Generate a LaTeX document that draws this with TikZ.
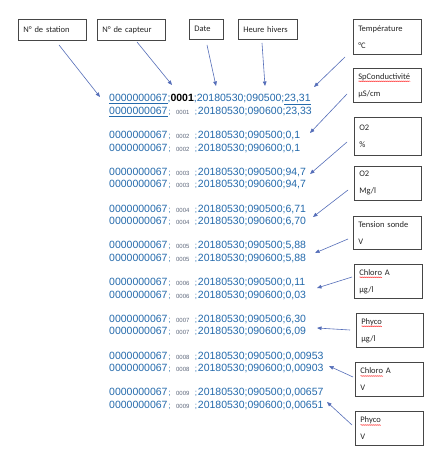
\documentclass[tikz,border=0pt]{standalone}
\usepackage{fontspec}
\setmainfont{Liberation Sans}
\newfontfamily\boxfont{Carlito}
\usetikzlibrary{arrows.meta,decorations.pathmorphing}
\definecolor{txtblue}{RGB}{36,106,172}
\definecolor{arrowc}{RGB}{85,110,185}
\definecolor{capgray}{RGB}{95,105,125}
\definecolor{boxline}{RGB}{70,70,70}
\newcommand\redwave[1]{\setbox2\hbox{#1}\rlap{\raisebox{-2.2pt}{\tikz[baseline=0pt]{\draw[red, line width=0.35pt, decorate, decoration={snake, amplitude=0.45pt, segment length=2pt}] (0pt,0pt) -- (\the\wd2,0pt);}}}\box2\relax}
\newcommand\sensor[1]{\setbox0\hbox{\bfseries;0001;}\hbox to\wd0{\hskip0.8pt{\fontsize{8}{8}\selectfont;}\hfil{\fontsize{6}{7}\selectfont\textcolor{capgray}{#1}}\hfil{\fontsize{8}{8}\selectfont;}\hskip0.8pt}}
\newcommand\rowtext[3]{0000000067\sensor{#1}20180530;#2;#3}
\tikzset{
  rowtxt/.style={anchor=base west, inner sep=0pt, text=txtblue, font=\fontsize{10.5}{12}\selectfont},
  lbox/.style={draw=boxline, line width=0.6pt, anchor=north west, align=left, inner xsep=5pt, inner ysep=0pt,
    font=\boxfont\fontsize{8.5}{17}\selectfont, text=black!85},
  arr/.style={draw=arrowc, line width=0.6pt, -{Triangle[length=4.5pt,width=3.6pt]}}
}
\begin{document}
\begin{tikzpicture}[x=1pt,y=-1pt]
\path[use as bounding box, fill=white] (0,0) rectangle (436,462);

% top boxes
\node[lbox, text width=58pt, minimum height=21pt] (station) at (18,19) {N° de station};
\node[lbox, text width=58pt, minimum height=21pt] (capteur) at (97,19) {N° de capteur};
\node[lbox, text width=24pt, minimum height=20pt] (date) at (189,19) {Date};
\node[lbox, text width=49pt, minimum height=20pt] (heure) at (238,19) {Heure hivers};

% right boxes
\node[lbox, text width=58pt, minimum height=35pt] (temp) at (353,19) {Température\\°C};
\node[lbox, text width=58pt, minimum height=34pt] (cond) at (353,68) {\redwave{SpConductivité}\\µS/cm};
\node[lbox, text width=57pt, minimum height=38pt] (o2p) at (354,117) {O2\\\%};
\node[lbox, text width=57pt, minimum height=34pt] (o2m) at (354,166) {O2\\Mg/l};
\node[lbox, text width=58pt, minimum height=33pt] (tens) at (353,216) {Tension sonde\\V};
\node[lbox, text width=58pt, minimum height=34pt] (chlu) at (354,264) {\redwave{Chloro} A\\µg/l};
\node[lbox, text width=57pt, minimum height=34pt] (phyu) at (356,313) {\redwave{Phyco}\\µg/l};
\node[lbox, text width=58pt, minimum height=34pt] (chlv) at (355,362) {\redwave{Chloro} A\\V};
\node[lbox, text width=58pt, minimum height=34pt] (phyv) at (355,411) {\redwave{Phyco}\\V};

% data rows
\node[rowtxt] (r1a) at (109,101.8) {\underline{0000000067};\textcolor{black}{\bfseries 0001};20180530;090500;\underline{23,31}};
\node[rowtxt] (r1b) at (109,114.3) {\underline{0000000067}\sensor{0001}20180530;090600;23,33};
\node[rowtxt] (r2a) at (109,138.55) {\rowtext{0002}{090500}{0,1}};
\node[rowtxt] (r2b) at (109,151.05) {\rowtext{0002}{090600}{0,1}};
\node[rowtxt] (r3a) at (109,175.3) {\rowtext{0003}{090500}{94,7}};
\node[rowtxt] (r3b) at (109,187.8) {\rowtext{0003}{090600}{94,7}};
\node[rowtxt] (r4a) at (109,212.05) {\rowtext{0004}{090500}{6,71}};
\node[rowtxt] (r4b) at (109,224.55) {\rowtext{0004}{090600}{6,70}};
\node[rowtxt] (r5a) at (109,248.8) {\rowtext{0005}{090500}{5,88}};
\node[rowtxt] (r5b) at (109,261.3) {\rowtext{0005}{090600}{5,88}};
\node[rowtxt] (r6a) at (109,285.55) {\rowtext{0006}{090500}{0,11}};
\node[rowtxt] (r6b) at (109,298.05) {\rowtext{0006}{090600}{0,03}};
\node[rowtxt] (r7a) at (109,322.3) {\rowtext{0007}{090500}{6,30}};
\node[rowtxt] (r7b) at (109,334.8) {\rowtext{0007}{090600}{6,09}};
\node[rowtxt] (r8a) at (109,359.05) {\rowtext{0008}{090500}{0,00953}};
\node[rowtxt] (r8b) at (109,371.55) {\rowtext{0008}{090600}{0,00903}};
\node[rowtxt] (r9a) at (109,395.8) {\rowtext{0009}{090500}{0,00657}};
\node[rowtxt] (r9b) at (109,408.3) {\rowtext{0009}{090600}{0,00651}};

% arrow end points
\coordinate (s1) at (59,45);   \coordinate (e1) at (100,97);
\coordinate (s2) at (137,42);  \coordinate (e2) at (172,85);
\coordinate (s3) at (207,45);  \coordinate (e3) at (216,86);
\coordinate (s4) at (262,43);  \coordinate (e4) at (265,86);
\coordinate (s5) at (345,57);  \coordinate (e5) at (314,87);
\coordinate (s6) at (347,94);  \coordinate (e6) at (310,133);
\coordinate (s7) at (347,142); \coordinate (e7) at (310,174);
\coordinate (s8) at (348,190); \coordinate (e8) at (313,217);
\coordinate (s9) at (348,239); \coordinate (e9) at (315,253);
\coordinate (s10) at (352,277); \coordinate (e10) at (317,288);
\coordinate (s11) at (350,330); \coordinate (e11) at (317,328);
\coordinate (s12) at (353,377); \coordinate (e12) at (329,366);
\coordinate (s13) at (352,425); \coordinate (e13) at (327,402);
\foreach \i in {1,...,13} { \draw[arr] (s\i) -- (e\i); }
\end{tikzpicture}
\end{document}
